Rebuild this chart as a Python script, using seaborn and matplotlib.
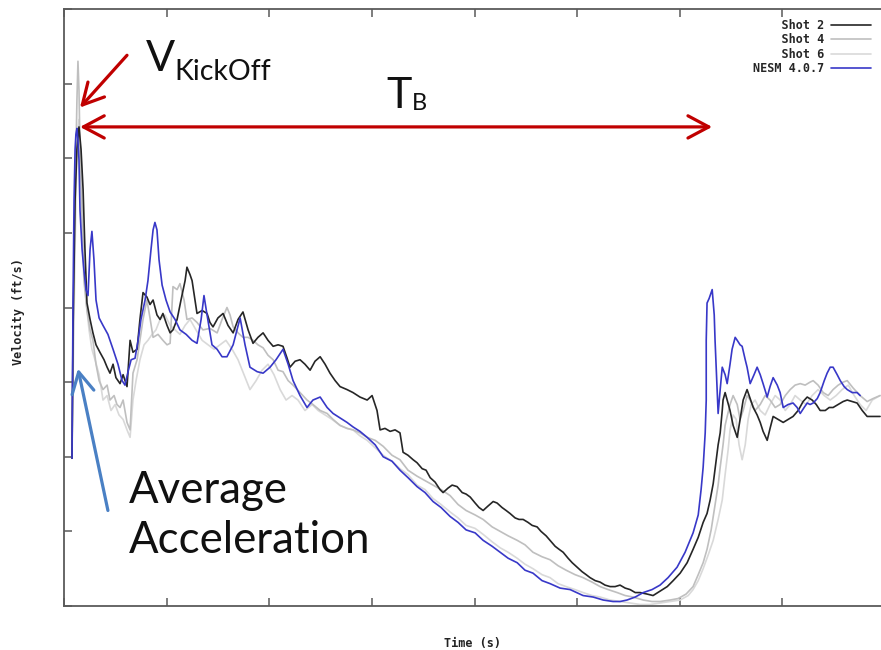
import matplotlib
matplotlib.use("Agg")
import numpy as np
import pandas as pd
import matplotlib.pyplot as plt
import seaborn as sns

# ---------------- data (time in ms, velocity in ft/s) ----------------
nesm_t = [3.9, 4.4, 4.9, 5.4, 5.8, 6.3, 6.8, 7.3, 7.8, 8.8, 9.7, 10.7, 11.7, 12.7, 13.6, 14.6, 15.6, 17.1,
          19.0, 21.4, 23.9, 26.3, 28.3, 29.7, 31.2, 32.7, 34.6, 36.1, 37.5, 39.5, 40.9, 42.4, 43.4, 44.3,
          45.3, 46.3, 47.8, 49.7, 51.7, 54.1, 56.5, 59.5, 62.4, 64.8, 66.8, 68.2, 69.7, 72.1, 74.6, 77.0,
          79.4, 82.4, 85.8, 88.2, 90.6, 94.1, 97.0, 100.4, 103.3, 106.7, 109.2, 111.6, 115.0, 118.4, 121.3,
          124.8, 128.2, 131.1, 134.5, 137.9, 140.8, 144.2, 147.7, 151.6, 155.5, 159.8, 163.7, 167.6, 172.0,
          175.9, 179.8, 183.7, 188.1, 192.0, 195.9, 200.3, 204.2, 208.6, 212.5, 216.4, 220.8, 224.6, 228.5,
          232.9, 236.8, 241.7, 246.6, 252.9, 257.8, 262.7, 267.5, 270.9, 274.3, 278.3, 282.2, 286.5, 290.4,
          294.3, 298.7, 302.6, 306.5, 309.0, 310.4, 311.4, 312.4, 312.9, 312.9, 313.3, 314.3, 315.8, 316.8,
          317.2, 318.2, 318.7, 319.7, 320.7, 322.1, 323.1, 324.5, 325.5, 327.0, 328.0, 329.4, 330.4, 331.9,
          332.8, 334.3, 336.2, 337.7, 339.2, 340.6, 342.6, 344.0, 345.5, 347.5, 348.9, 350.4, 352.8, 355.2,
          357.2, 358.7, 360.6, 362.1, 363.5, 365.0, 367.0, 368.4, 370.4, 371.8, 373.3, 374.7, 376.7, 378.2,
          380.1, 381.6, 384.0, 386.4, 387.9]
nesm_v = [9.9, 20.5, 27.2, 30.6, 31.6, 32.0, 31.2, 29.9, 26.5, 23.9, 22.5, 21.2, 20.8, 23.9, 25.1, 23.2, 20.5,
          19.3, 18.8, 18.2, 17.2, 16.2, 15.1, 14.8, 15.7, 16.5, 16.6, 17.8, 19.2, 20.5, 21.8, 23.9, 25.2,
          25.7, 25.2, 23.2, 21.5, 20.5, 19.7, 19.2, 18.5, 18.2, 17.8, 17.6, 19.2, 20.8, 19.5, 17.5, 17.2,
          16.7, 16.7, 17.5, 19.3, 17.5, 16.0, 15.7, 15.6, 16.0, 16.5, 17.2, 16.2, 15.1, 14.1, 13.3, 13.8,
          14.0, 13.3, 12.9, 12.6, 12.3, 12.0, 11.7, 11.3, 10.8, 10.0, 9.7, 9.1, 8.6, 8.0, 7.6, 7.0, 6.6,
          6.0, 5.6, 5.1, 4.9, 4.4, 4.0, 3.6, 3.2, 2.9, 2.4, 2.2, 1.7, 1.5, 1.2, 1.1, 0.7, 0.6, 0.4, 0.3,
          0.3, 0.4, 0.6, 0.9, 1.1, 1.4, 1.9, 2.6, 3.6, 4.9, 6.1, 7.8, 9.3, 11.6, 13.8, 17.8, 20.3, 20.6,
          21.2, 19.5, 17.8, 14.5, 12.9, 14.5, 16.0, 15.5, 14.9, 16.2, 17.2, 18.0, 17.8, 17.5, 17.4, 16.5,
          16.0, 14.9, 15.5, 16.0, 15.5, 14.9, 14.0, 14.7, 15.3, 14.8, 14.3, 13.3, 13.5, 13.6, 13.3, 12.9,
          13.3, 13.6, 13.5, 13.6, 13.9, 14.3, 15.1, 15.6, 16.0, 16.0, 15.5, 15.1, 14.7, 14.5, 14.3, 14.3,
          14.1]

shot2_t = [3.9, 4.4, 5.4, 6.3, 7.3, 8.3, 9.3, 10.2, 11.2, 12.7, 14.1, 15.6, 17.5, 19.5, 21.0, 22.4, 23.9,
           25.3, 27.3, 28.8, 30.7, 32.2, 33.6, 35.6, 37.0, 38.5, 40.4, 41.9, 43.4, 45.3, 46.8, 48.2, 50.2,
           51.7, 53.1, 55.1, 57.0, 59.0, 59.9, 61.4, 62.4, 63.8, 64.8, 67.3, 69.7, 71.1, 72.6, 75.0, 77.5,
           79.9, 82.4, 84.8, 87.2, 89.7, 92.1, 94.5, 97.0, 99.4, 101.9, 104.3, 106.7, 108.7, 110.1, 112.6,
           115.0, 117.4, 119.9, 122.3, 124.8, 127.2, 129.6, 132.1, 134.5, 137.9, 140.8, 144.2, 147.7, 150.1,
           152.5, 154.0, 156.4, 158.9, 161.3, 163.7, 165.2, 167.6, 170.1, 172.0, 174.5, 176.4, 178.4, 180.8,
           183.2, 184.7, 187.1, 189.1, 191.5, 194.0, 195.9, 197.9, 200.3, 202.2, 204.2, 206.6, 209.1, 211.0,
           213.4, 215.4, 217.3, 219.8, 221.7, 223.7, 226.1, 228.1, 230.5, 232.4, 234.9, 236.8, 239.3, 241.2,
           243.2, 245.6, 247.6, 250.0, 252.4, 254.4, 256.3, 258.8, 261.2, 263.6, 266.1, 268.5, 270.9, 273.4,
           275.8, 278.3, 280.7, 284.1, 287.0, 290.4, 293.9, 296.8, 300.2, 303.6, 306.5, 309.0, 311.4, 313.3,
           314.8, 316.3, 317.7, 318.7, 319.7, 320.7, 321.1, 322.1, 323.1, 324.5, 326.0, 328.0, 329.4, 330.9,
           332.8, 334.3, 335.8, 337.7, 339.2, 340.6, 342.6, 344.0, 345.5, 347.9, 350.4, 352.8, 355.2, 357.7,
           360.1, 362.1, 364.5, 366.5, 368.4, 370.9, 372.8, 374.7, 377.2, 379.6, 381.6, 384.0, 386.4, 388.9,
           391.3, 394.2, 397.6]
shot2_v = [9.9, 18.5, 27.2, 30.6, 32.1, 30.6, 27.9, 23.9, 20.3, 19.2, 18.3, 17.5, 17.0, 16.5, 16.0, 15.6,
           16.2, 15.3, 14.9, 15.5, 14.7, 17.8, 17.0, 17.2, 19.2, 21.0, 20.7, 20.2, 20.5, 19.5, 19.2, 19.6,
           18.8, 18.3, 18.5, 19.2, 20.5, 21.8, 22.7, 22.2, 21.8, 20.5, 19.6, 19.8, 19.6, 19.0, 18.7, 19.3,
           19.6, 18.8, 18.3, 19.2, 19.7, 18.5, 17.6, 18.0, 18.3, 17.8, 17.4, 17.5, 17.4, 16.6, 16.0, 16.4,
           16.5, 16.2, 15.8, 16.4, 16.7, 16.2, 15.6, 15.1, 14.7, 14.5, 14.3, 14.0, 13.8, 14.1, 13.1, 11.8,
           11.9, 11.7, 11.8, 11.6, 10.3, 10.1, 9.8, 9.6, 9.2, 9.1, 8.6, 8.3, 7.8, 7.6, 7.9, 8.1, 8.0, 7.6,
           7.5, 7.3, 6.9, 6.6, 6.4, 6.7, 7.0, 6.9, 6.6, 6.4, 6.2, 5.9, 5.8, 5.8, 5.6, 5.4, 5.3, 5.0, 4.7,
           4.4, 4.0, 3.8, 3.6, 3.2, 2.9, 2.6, 2.3, 2.1, 1.9, 1.7, 1.6, 1.4, 1.3, 1.3, 1.4, 1.2, 1.1, 0.9,
           0.9, 0.8, 0.7, 1.0, 1.3, 1.7, 2.2, 2.9, 3.8, 4.6, 5.6, 6.2, 7.1, 8.2, 9.7, 10.8, 11.6, 13.1,
           13.8, 14.3, 13.8, 13.1, 12.1, 11.3, 12.5, 13.8, 14.5, 13.9, 13.3, 12.8, 12.3, 11.7, 11.1, 11.9,
           12.7, 12.5, 12.3, 12.5, 12.7, 13.1, 13.7, 14.0, 13.8, 13.5, 13.1, 13.1, 13.3, 13.3, 13.5, 13.7,
           13.8, 13.7, 13.6, 13.1, 12.7, 12.7, 12.7]

shot4_t = [3.9, 4.4, 5.4, 6.3, 6.8, 7.3, 7.8, 8.8, 9.7, 11.2, 12.7, 14.1, 15.6, 17.1, 19.0, 21.0, 22.4, 24.4,
           25.8, 27.3, 28.8, 30.7, 32.2, 33.6, 35.6, 37.0, 38.5, 40.4, 41.9, 43.4, 45.8, 48.2, 50.2, 51.7,
           53.1, 55.1, 56.5, 58.5, 59.9, 62.4, 64.8, 67.7, 71.1, 74.6, 77.0, 79.4, 80.9, 82.4, 84.8, 87.2,
           89.7, 92.1, 94.5, 97.0, 99.4, 101.9, 104.3, 106.7, 109.2, 111.6, 115.0, 118.4, 121.3, 124.8,
           128.2, 131.1, 134.5, 137.9, 140.8, 144.2, 147.7, 151.6, 155.5, 159.8, 163.7, 167.6, 172.0, 175.9,
           179.8, 183.7, 188.1, 192.0, 195.9, 200.3, 204.2, 208.6, 212.5, 216.4, 220.8, 224.6, 228.5, 232.9,
           236.8, 240.7, 244.6, 249.0, 252.9, 257.3, 261.2, 265.1, 269.5, 273.4, 277.3, 282.2, 286.5, 290.4,
           295.3, 299.2, 303.1, 306.5, 309.0, 311.4, 313.3, 315.3, 317.2, 318.7, 319.7, 321.1, 322.1, 323.1,
           324.5, 326.0, 328.0, 329.4, 330.9, 332.8, 334.3, 336.7, 339.2, 341.6, 344.0, 346.5, 348.9, 351.4,
           353.8, 356.2, 358.7, 361.1, 363.5, 365.0, 367.4, 369.9, 372.3, 374.7, 377.2, 379.6, 381.6, 384.5,
           387.9, 391.3, 394.2, 397.6]
shot4_v = [9.9, 17.2, 27.2, 33.9, 36.5, 34.6, 30.6, 25.9, 21.8, 19.8, 18.5, 17.8, 16.2, 15.1, 14.5, 14.8,
           13.8, 14.1, 13.5, 13.3, 13.8, 12.3, 11.8, 15.6, 16.5, 17.8, 19.2, 20.5, 19.3, 18.0, 18.2, 17.8,
           17.5, 17.6, 21.4, 21.2, 21.6, 20.5, 19.2, 19.3, 19.0, 18.5, 18.6, 18.3, 19.2, 20.0, 19.5, 18.7,
           18.3, 18.0, 18.0, 17.8, 17.5, 17.3, 16.8, 16.5, 15.8, 15.7, 15.1, 14.8, 14.3, 13.8, 13.5, 13.1,
           12.9, 12.5, 12.1, 11.9, 11.8, 11.6, 11.3, 11.1, 10.7, 10.1, 9.8, 9.1, 8.7, 8.4, 8.1, 7.8, 7.4,
           6.8, 6.4, 6.1, 5.8, 5.3, 5.0, 4.7, 4.4, 4.1, 3.6, 3.3, 3.1, 2.7, 2.4, 2.1, 1.9, 1.6, 1.3, 1.1,
           0.9, 0.7, 0.6, 0.4, 0.3, 0.3, 0.4, 0.5, 0.8, 1.3, 2.1, 2.9, 3.8, 5.1, 6.8, 8.1, 9.3, 10.8, 12.1,
           12.7, 13.5, 14.1, 13.5, 12.5, 13.1, 14.1, 13.8, 13.1, 13.5, 14.1, 13.8, 13.3, 13.5, 14.1, 14.5,
           14.8, 14.9, 14.8, 15.0, 15.1, 14.8, 14.3, 14.1, 14.5, 14.8, 15.0, 15.1, 14.6, 14.1, 13.7, 13.9,
           14.1]

shot6_t = [3.9, 4.4, 5.4, 6.3, 7.3, 8.3, 9.3, 10.7, 12.2, 13.6, 15.1, 17.1, 19.0, 21.0, 22.9, 24.9, 26.8,
           28.8, 30.7, 32.2, 33.6, 35.1, 37.0, 39.0, 40.9, 42.9, 44.8, 46.8, 49.2, 51.7, 54.1, 56.5, 59.0,
           61.4, 64.3, 67.3, 70.2, 73.1, 76.0, 78.9, 81.9, 84.8, 87.7, 90.6, 93.6, 96.5, 99.4, 102.3, 105.3,
           108.2, 111.1, 114.0, 117.4, 120.9, 123.8, 127.2, 130.6, 134.5, 137.9, 140.8, 144.2, 147.7, 151.6,
           155.5, 159.8, 163.7, 167.6, 172.0, 175.9, 179.8, 183.7, 188.1, 192.0, 195.9, 200.3, 204.2, 208.6,
           212.5, 216.4, 220.8, 224.6, 228.5, 232.9, 236.8, 240.7, 244.6, 249.0, 252.9, 257.3, 261.2, 266.1,
           270.9, 275.8, 280.7, 285.6, 290.4, 295.3, 300.2, 304.1, 306.5, 309.0, 311.4, 313.8, 316.3, 318.7,
           320.7, 322.1, 323.6, 324.5, 326.0, 327.5, 328.9, 330.4, 331.9, 333.3, 334.8, 336.7, 339.2, 341.6,
           344.0, 346.5, 348.9, 351.4, 353.8, 356.2, 358.7, 361.6, 364.5, 367.4, 370.4, 373.3, 376.2, 379.1,
           382.1, 385.0, 387.9, 390.8, 393.8, 397.6]
shot6_v = [9.9, 15.1, 23.9, 31.2, 32.6, 29.2, 24.5, 20.5, 18.5, 17.2, 16.5, 15.5, 13.8, 14.1, 13.1, 13.5,
           12.8, 12.5, 11.8, 11.3, 13.8, 15.1, 16.5, 17.5, 17.8, 18.2, 18.5, 19.2, 19.5, 18.8, 18.5, 18.2,
           18.8, 19.2, 18.5, 17.8, 17.5, 17.2, 17.5, 17.8, 17.2, 16.5, 15.5, 14.5, 15.1, 15.8, 16.2, 15.5,
           14.5, 13.8, 14.1, 13.8, 13.1, 13.5, 13.1, 12.8, 12.5, 12.1, 11.9, 11.8, 11.4, 11.1, 10.6, 10.1,
           9.7, 9.2, 8.8, 8.1, 7.8, 7.2, 6.8, 6.3, 5.9, 5.4, 5.2, 4.8, 4.3, 3.9, 3.6, 3.2, 2.8, 2.5, 2.1,
           1.9, 1.5, 1.3, 1.1, 0.9, 0.7, 0.6, 0.4, 0.3, 0.2, 0.1, 0.1, 0.2, 0.3, 0.4, 0.7, 1.1, 1.7, 2.5,
           3.4, 4.4, 5.8, 7.1, 8.8, 10.5, 11.8, 12.8, 12.5, 10.8, 9.8, 10.8, 12.5, 13.5, 13.8, 13.1, 12.8,
           13.5, 14.1, 13.8, 13.1, 13.5, 14.1, 13.8, 13.5, 14.1, 14.5, 14.1, 13.8, 14.1, 14.5, 14.8, 14.1,
           13.5, 13.1, 13.8, 14.1]

series_names = ["Shot 2", "Shot 4", "Shot 6", "NESM 4.0.7"]
series_data = {
    "Shot 2": (shot2_t, shot2_v),
    "Shot 4": (shot4_t, shot4_v),
    "Shot 6": (shot6_t, shot6_v),
    "NESM 4.0.7": (nesm_t, nesm_v),
}
x_ticks = np.arange(0, 401, 50)
y_ticks = np.arange(0, 41, 5)

frames = []
for name in series_names:
    t, v = series_data[name]
    frames.append(pd.DataFrame({"time": t, "velocity": v, "series": name}))
df = pd.concat(frames, ignore_index=True)

# ---------------- style ----------------
sns.set_style("white")
plt.rcParams["font.family"] = ["DejaVu Sans"]

W, H = 881, 650
fig = plt.figure(figsize=(W / 100, H / 100), dpi=100)
ax = fig.add_axes([64 / W, (H - 606) / H, (885 - 64) / W, 597 / H])

colors = {"Shot 2": "#262626", "Shot 4": "#bfbfbf", "Shot 6": "#d9d9d9", "NESM 4.0.7": "#3838c8"}
zorders = {"Shot 2": 3, "Shot 4": 2.2, "Shot 6": 2, "NESM 4.0.7": 4}
for name in series_names:
    sub = df[df["series"] == name]
    sns.lineplot(data=sub, x="time", y="velocity", ax=ax, sort=False, estimator=None,
                 color=colors[name], lw=1.2, zorder=zorders[name], label=name)
lines = ax.get_lines()
leg_handles = lines[:4]
labels = [n.rjust(10) for n in series_names]
leg = ax.legend(leg_handles, labels, loc="upper right", markerfirst=False, frameon=False,
                bbox_to_anchor=(871 / W, (H - 19) / H), bbox_transform=fig.transFigure,
                borderaxespad=0, borderpad=0, handlelength=3.4, handletextpad=0.6,
                labelspacing=0.12, prop={"family": "DejaVu Sans Mono", "weight": "bold", "size": 8.5})

ax.set_xlim(0, 400)
ax.set_ylim(0, 40)
ax.set_xticks(x_ticks)
ax.set_yticks(y_ticks)
ax.set_xticklabels([])
ax.set_yticklabels([])
ax.tick_params(direction="in", length=6, width=1.1, color="#5a5a5a",
               top=True, bottom=True, left=True, right=False)
for s in ax.spines.values():
    s.set_color("#5a5a5a")
    s.set_linewidth(1.3)

lab_font = {"family": "DejaVu Sans Mono", "weight": "bold", "size": 8.5, "color": "#222222"}
ax.set_xlabel("Time (s)", fontdict=lab_font)
ax.set_ylabel("Velocity (ft/s)", fontdict=lab_font)
ax.xaxis.set_label_coords(472 / W, 1 - 643 / H, transform=fig.transFigure)
ax.xaxis.label.set_va("center")
ax.yaxis.set_label_coords(18 / W, 1 - 312 / H, transform=fig.transFigure)
ax.yaxis.label.set_va("center")

# ---------------- annotations ----------------
red = "#c00000"
blue_ann = "#4a80c4"
ann_font = "Lato"

ax.annotate("", xy=(7.8, 33.4), xytext=(30.7, 36.9),
            arrowprops=dict(arrowstyle="->,head_length=0.75,head_width=0.4", color=red, lw=2.3,
                            mutation_scale=20, shrinkA=0, shrinkB=0), zorder=6)
ax.annotate("", xy=(7.8, 32.1), xytext=(315.8, 32.1),
            arrowprops=dict(arrowstyle="<->,head_length=0.75,head_width=0.4", color=red, lw=2.3,
                            mutation_scale=20, shrinkA=0, shrinkB=0), zorder=6)
ax.annotate("", xy=(6.8, 15.9), xytext=(21.4, 6.4),
            arrowprops=dict(arrowstyle="->,head_length=0.75,head_width=0.4", color=blue_ann, lw=2.3,
                            mutation_scale=20, shrinkA=0, shrinkB=0), zorder=6)

fig.text(146 / W, 1 - 71 / H, "V", fontsize=31, family=ann_font, color="#111111", va="baseline")
fig.text(174 / W, 1 - 80 / H, "KickOff", fontsize=20.5, family=ann_font, color="#111111", va="baseline")
fig.text(386 / W, 1 - 108 / H, "T", fontsize=31, family=ann_font, color="#111111", va="baseline")
fig.text(412 / W, 1 - 110 / H, "B", fontsize=17, family=ann_font, color="#111111", va="baseline")
fig.text(129 / W, 1 - 503 / H, "Average", fontsize=31.5, family=ann_font, color="#111111", va="baseline")
fig.text(129 / W, 1 - 553 / H, "Acceleration", fontsize=31.5, family=ann_font, color="#111111", va="baseline")

fig.savefig("out.png", dpi=100)
